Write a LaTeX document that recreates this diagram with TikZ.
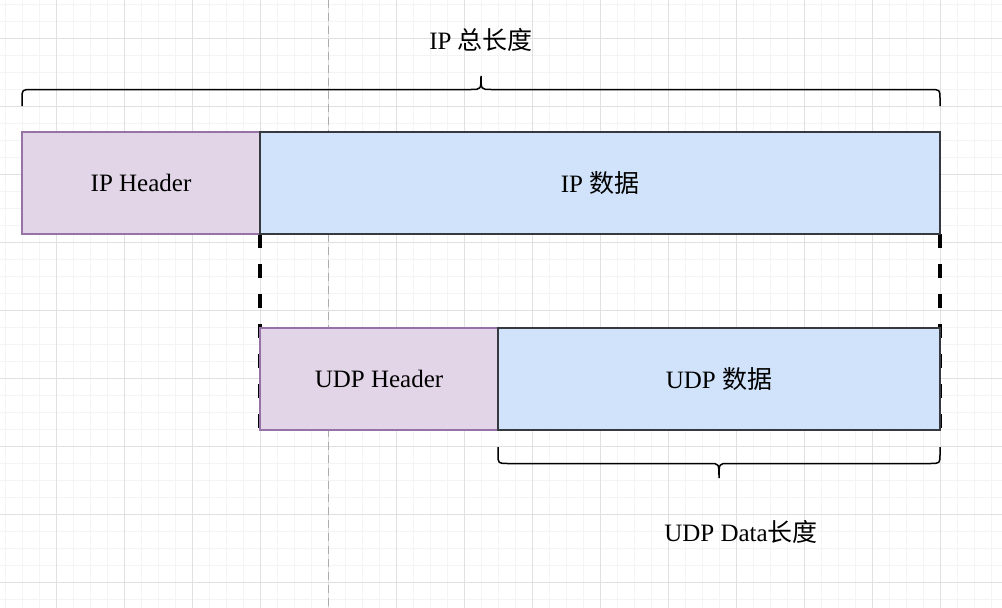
\documentclass[tikz,border=0pt]{standalone}
\usepackage{fontspec}
\setmainfont{Liberation Serif}
\newfontfamily\cjkfont{Noto Sans CJK SC}
\usepackage{tikz}
\usetikzlibrary{positioning,backgrounds,calc}
\pgfdeclarelayer{gridlayer}
\pgfsetlayers{gridlayer,background,main}
\definecolor{hdrfill}{HTML}{E1D5E7}
\definecolor{hdrline}{HTML}{9673A6}
\definecolor{datafill}{HTML}{D0E3FA}
\definecolor{dataline}{HTML}{36393D}
\definecolor{gridminor}{HTML}{F4F4F4}
\definecolor{gridmajor}{HTML}{E0E0E0}
\newcommand{\zh}[1]{{\cjkfont #1}}

\begin{document}
\begin{tikzpicture}[x=1pt,y=-1pt]
  \def\h{102pt}
  \tikzset{hdrbox/.style={draw=hdrline,fill=hdrfill,line width=1.5pt,outer sep=0pt,inner sep=0pt,minimum height=\h,font=\fontsize{25}{30}\selectfont}}
  \tikzset{databox/.style={draw=dataline,fill=datafill,line width=1.5pt,outer sep=0pt,inner sep=0pt,minimum height=\h,font=\fontsize{25}{30}\selectfont}}
  \tikzset{lentext/.style={inner sep=0pt,font=\fontsize{25}{30}\selectfont}}
  \tikzset{cutline/.style={line width=3.5pt,dash pattern=on 14pt off 16pt}}
  \tikzset{bracket/.style={line width=1.5pt}}
  \useasboundingbox (0,0) rectangle (1002,608);
  % grid paper
  \begin{pgfonlayer}{gridlayer}
    \fill[white] (0,0) rectangle (1002,608);
    \foreach \gx in {5,22,...,1002} \draw[gridminor,line width=1pt] (\gx,0) -- (\gx,608);
    \foreach \gy in {4.7,21.7,...,608} \draw[gridminor,line width=1pt] (0,\gy) -- (1002,\gy);
    \foreach \gx in {56.5,124.5,...,1002} \draw[gridmajor,line width=1pt] (\gx,0) -- (\gx,608);
    \foreach \gy in {38.7,106.7,...,608} \draw[gridmajor,line width=1pt] (0,\gy) -- (1002,\gy);
    \draw[gray!65,line width=1.5pt,dash pattern=on 8pt off 5pt] (328.5,0) -- (328.5,608);
  \end{pgfonlayer}
  % IP packet
  \node[hdrbox,minimum width=238pt] (iphdr) at (141,183) {IP Header};
  \node[databox,minimum width=680pt,right=0pt of iphdr] (ipdata) {IP \zh{数据}};
  % UDP packet
  \node[hdrbox,minimum width=238pt] (udphdr) at (379,379) {UDP Header};
  \node[databox,minimum width=442pt,right=0pt of udphdr] (udpdata) {UDP \zh{数据}};
  \begin{scope}[on background layer]
    \draw[cutline] (iphdr.south east) -- (udphdr.south west);
    \draw[cutline] (ipdata.south east) -- (udpdata.south east);
  \end{scope}
  % lengths
  \draw[bracket] (22,106) -- (22,99) .. controls (22,89.5) .. (32,89.5) -- (471,89.5)
    .. controls (481,89.5) .. (481,76) .. controls (481,89.5) .. (491,89.5)
    -- (930,89.5) .. controls (940,89.5) .. (940,99) -- (940,106);
  \node[lentext] (iplen) at (481,40) {IP \zh{总长度}};
  \draw[bracket] (498,447) -- (498,454) .. controls (498,463.5) .. (508,463.5) -- (710,463.5)
    .. controls (719,463.5) .. (719,478) .. controls (719,463.5) .. (728,463.5)
    -- (930,463.5) .. controls (940,463.5) .. (940,454) -- (940,447);
  \node[lentext] (udplen) at (741,532) {UDP Data\zh{长度}};
\end{tikzpicture}
\end{document}
